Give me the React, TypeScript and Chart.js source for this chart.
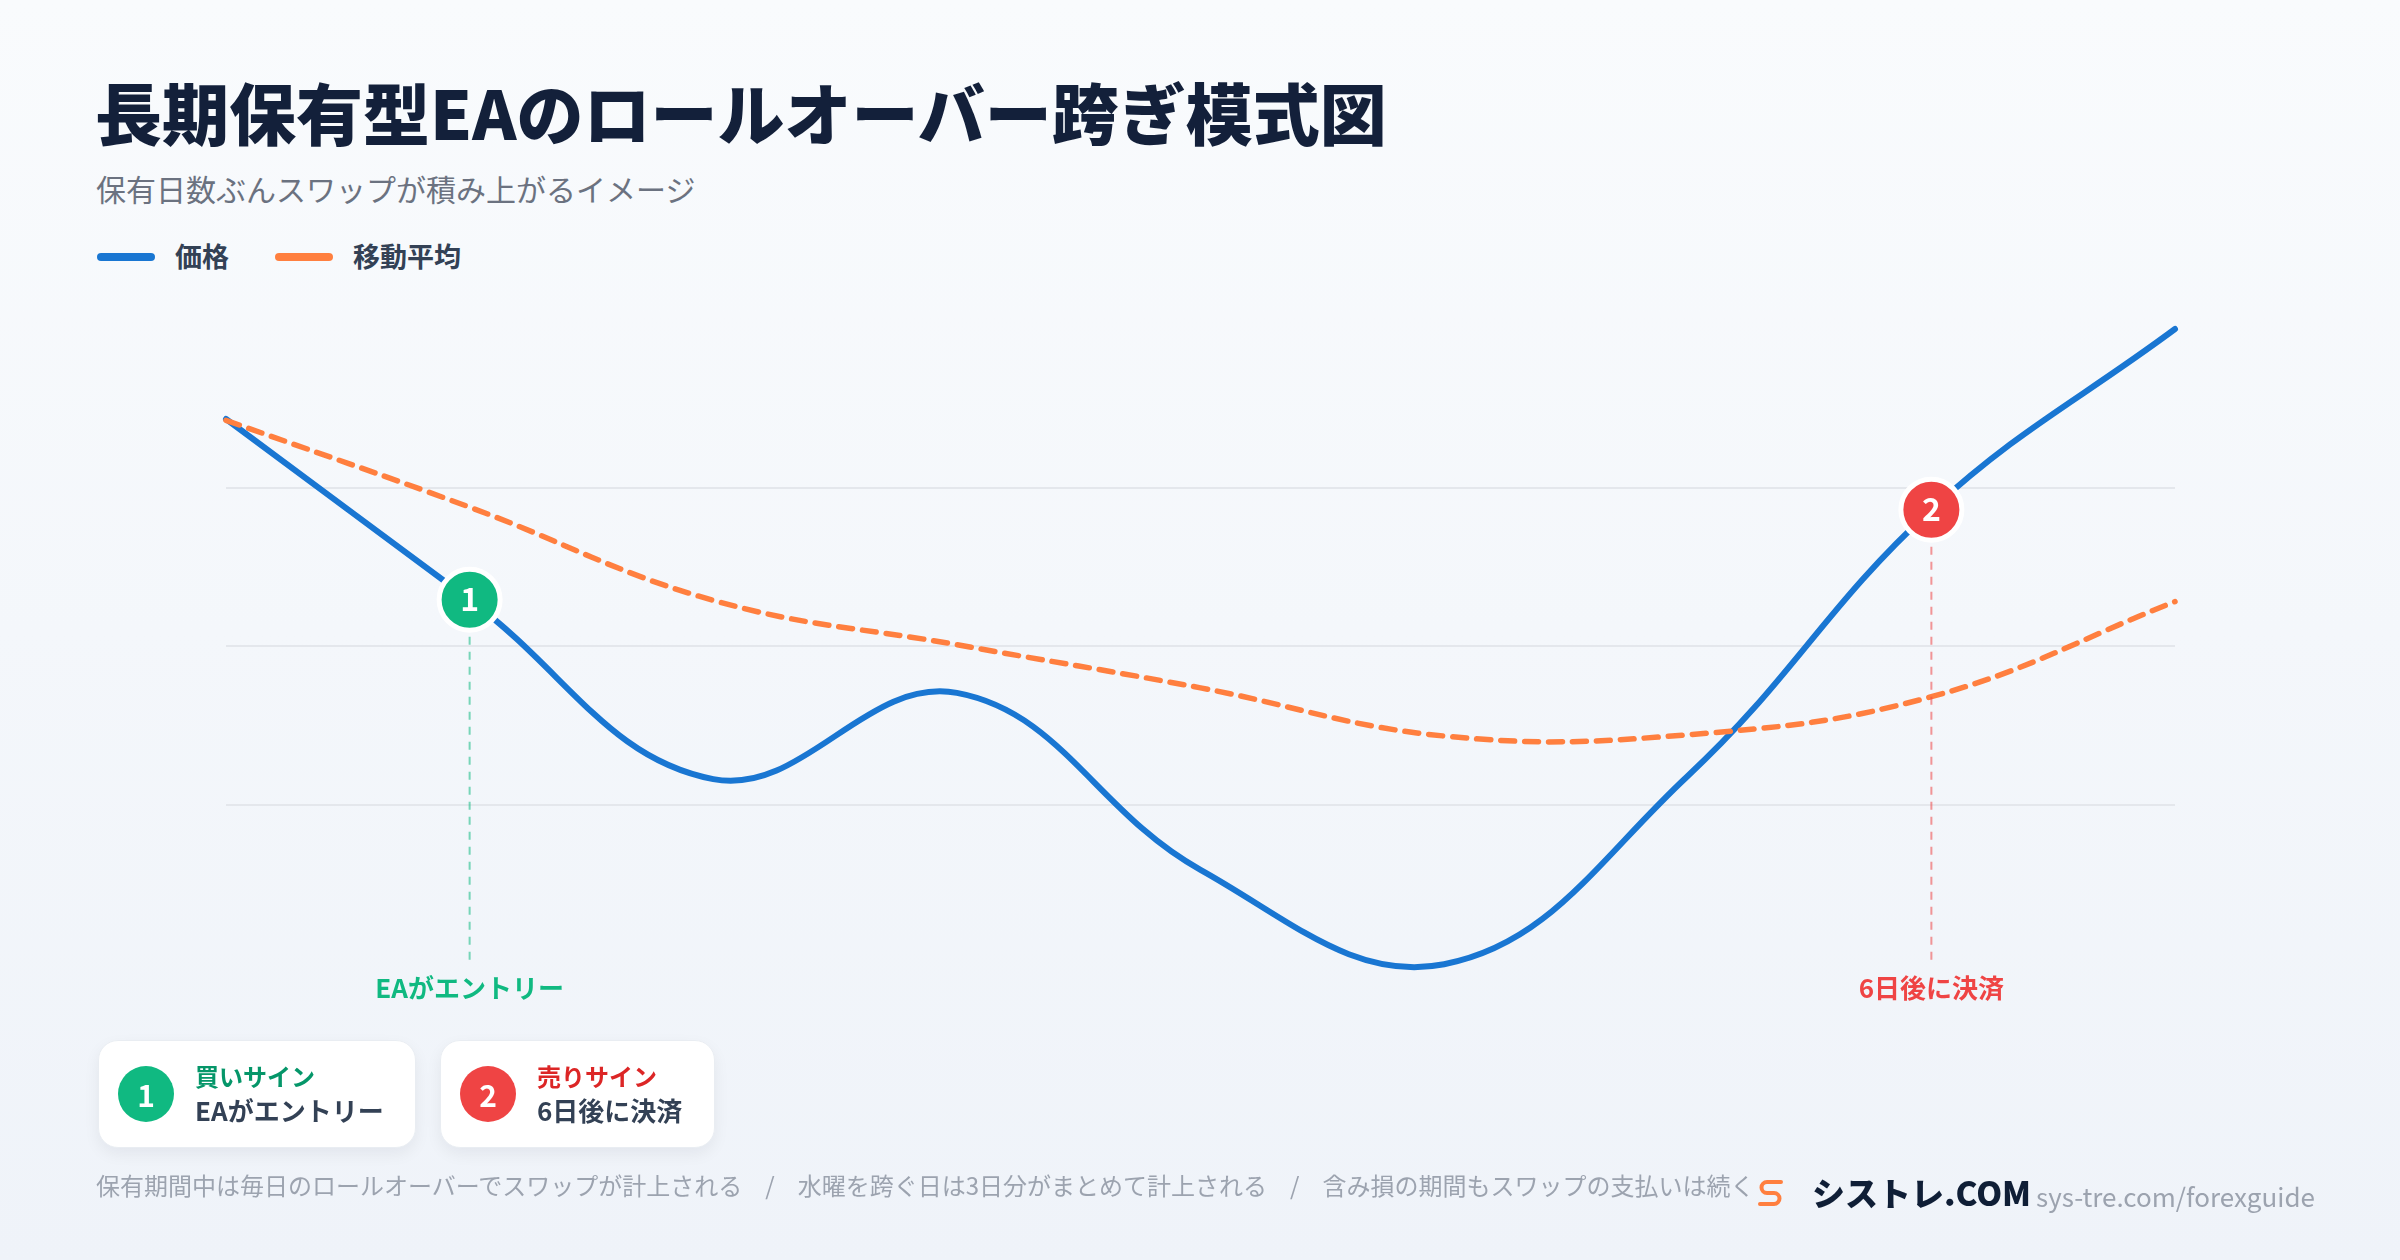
import React, { useEffect, useRef } from 'react';
import { Chart, registerables } from 'chart.js';

Chart.register(...registerables);

// ---- data ----
const days = ['0', '1', '2', '3', '4', '5', '6', '7', '8'];
const priceValues = [85.8, 57.3, 29.0, 42.6, 14.7, -0.2, 29.5, 71.5, 100];
const maValues = [85.6, 71.9, 57.2, 50.2, 43.4, 35.8, 36.0, 42.0, 57.0];
const yMin = 0;
const yMax = 100;
const yStep = 25;
const seriesNames = ['価格', '移動平均'];
const signalIndices = [1, 7];
const signalNumbers = ['1', '2'];
const signalLabels = ['EAがエントリー', '6日後に決済'];
const cardTitles = ['買いサイン', '売りサイン'];
const cardTexts = ['EAがエントリー', '6日後に決済'];
const footerNotes = [
  '保有期間中は毎日のロールオーバーでスワップが計上される',
  '水曜を跨ぐ日は3日分がまとめて計上される',
  '含み損の期間もスワップの支払いは続く',
];
const titleText = '長期保有型EAのロールオーバー跨ぎ模式図';
const subtitleText = '保有日数ぶんスワップが積み上がるイメージ';
const brandName = 'シストレ.COM';
const brandUrl = 'sys-tre.com/forexguide';

// ---- styles ----
const FONT = '"Noto Sans CJK JP", "Noto Sans", sans-serif';
const BLUE = '#1976D2';
const ORANGE = '#FF7F3F';
const GREEN = '#10B981';
const RED = '#EF4444';
const signalColors = [GREEN, RED];
const signalLineColors = ['rgba(16,185,129,0.55)', 'rgba(239,68,68,0.55)'];
const cardTitleColors = ['#059669', '#DC2626'];

const signalPlugin = {
  id: 'signalPlugin',
  afterDatasetsDraw(chart: any) {
    const ctx = chart.ctx;
    const xs = chart.scales.x;
    const ys = chart.scales.y;
    const area = chart.chartArea;
    signalIndices.forEach((idx, k) => {
      const x = xs.getPixelForValue(idx);
      const y = ys.getPixelForValue(priceValues[idx]);
      ctx.save();
      ctx.strokeStyle = signalLineColors[k];
      ctx.lineWidth = 2;
      ctx.setLineDash([8, 7]);
      ctx.beginPath();
      ctx.moveTo(x, y + 37);
      ctx.lineTo(x, area.bottom);
      ctx.stroke();
      ctx.setLineDash([]);
      ctx.fillStyle = '#ffffff';
      ctx.font = `700 32px ${FONT}`;
      ctx.textAlign = 'center';
      ctx.textBaseline = 'alphabetic';
      ctx.fillText(signalNumbers[k], x, y + 11.5);
      ctx.fillStyle = signalColors[k];
      ctx.font = `700 26px ${FONT}`;
      ctx.fillText(signalLabels[k], x, area.bottom + 25 + 0.38 * 26);
      ctx.restore();
    });
  },
};

function ChartCanvas() {
  const ref = useRef<HTMLCanvasElement | null>(null);
  useEffect(() => {
    if (!ref.current) return;
    const radii = days.map((_, i) => (signalIndices.includes(i) ? 30.5 : 0));
    const fills = days.map((_, i) => {
      const k = signalIndices.indexOf(i);
      return k >= 0 ? signalColors[k] : BLUE;
    });
    const chart = new Chart(ref.current, {
      type: 'line',
      data: {
        labels: days,
        datasets: [
          {
            label: seriesNames[1],
            data: maValues,
            borderColor: ORANGE,
            borderWidth: 5.5,
            borderDash: [14, 10],
            borderCapStyle: 'round',
            tension: 0.4,
            pointRadius: 0,
            pointHoverRadius: 0,
            fill: false,
            clip: false as any,
          },
          {
            label: seriesNames[0],
            data: priceValues,
            borderColor: BLUE,
            borderWidth: 6,
            borderCapStyle: 'round',
            borderJoinStyle: 'round',
            tension: 0.4,
            pointRadius: radii,
            pointHoverRadius: radii,
            pointBackgroundColor: fills,
            pointBorderColor: '#ffffff',
            pointBorderWidth: 5,
            pointHoverBorderWidth: 5,
            fill: false,
            clip: false as any,
          },
        ],
      },
      options: {
        responsive: false,
        animation: false,
        devicePixelRatio: 1,
        events: [],
        layout: { padding: { left: 226, right: 225, top: 329, bottom: 297 } },
        plugins: {
          legend: { display: false },
          tooltip: { enabled: false },
          title: { display: false },
        },
        scales: {
          x: { display: false, offset: false },
          y: {
            min: yMin,
            max: yMax,
            ticks: { display: false, stepSize: yStep },
            border: { display: false },
            grid: {
              drawTicks: false,
              lineWidth: 2,
              color: (c: any) =>
                c.tick && (c.tick.value === yMin || c.tick.value === yMax)
                  ? 'rgba(0,0,0,0)'
                  : '#E4E7EC',
            },
          },
        },
      },
      plugins: [signalPlugin],
    } as any);
    return () => chart.destroy();
  }, []);
  return (
    <canvas
      ref={ref}
      width={2400}
      height={1260}
      style={{ position: 'absolute', left: 0, top: 0, width: 2400, height: 1260 }}
    />
  );
}

export default function App() {
  useEffect(() => {
    document.body.style.margin = '0';
  }, []);
  const abs = (o: any) => ({ position: 'absolute' as const, lineHeight: 1, whiteSpace: 'nowrap' as const, fontFamily: FONT, ...o });
  return (
    <div
      style={{
        position: 'fixed',
        left: 0,
        top: 0,
        width: 2400,
        height: 1260,
        overflow: 'hidden',
        background: 'linear-gradient(180deg, #F9FBFD 0%, #EFF3F9 100%)',
        fontFamily: FONT,
      }}
    >
      <div style={abs({ left: 95, top: 77, fontSize: 67, fontWeight: 900, color: '#13203A' })}>{titleText}</div>
      <div style={abs({ left: 96, top: 173, fontSize: 30, fontWeight: 400, color: '#6B7280' })}>{subtitleText}</div>

      {/* legend */}
      <div style={abs({ left: 97, top: 253, width: 58, height: 8, borderRadius: 4, background: BLUE })} />
      <div style={abs({ left: 175, top: 242, fontSize: 27, fontWeight: 700, color: '#334155' })}>{seriesNames[0]}</div>
      <div style={abs({ left: 275, top: 253, width: 58, height: 8, borderRadius: 4, background: ORANGE })} />
      <div style={abs({ left: 353, top: 242, fontSize: 27, fontWeight: 700, color: '#334155' })}>{seriesNames[1]}</div>

      <ChartCanvas />

      {/* signal cards */}
      {cardTitles.map((t, k) => (
        <div
          key={k}
          style={{
            position: 'absolute',
            left: k === 0 ? 98 : 440,
            top: 1040,
            width: k === 0 ? 318 : 275,
            height: 108,
            boxSizing: 'border-box',
            background: '#FFFFFF',
            borderRadius: 20,
            border: '1px solid #E9EDF2',
            boxShadow: '0 6px 16px rgba(15,23,42,0.06)',
            display: 'flex',
            alignItems: 'center',
            paddingLeft: 19,
          }}
        >
          <div
            style={{
              width: 56,
              height: 56,
              borderRadius: 28,
              background: signalColors[k],
              color: '#fff',
              fontSize: 30,
              fontWeight: 700,
              display: 'flex',
              alignItems: 'center',
              justifyContent: 'center',
              lineHeight: 1,
              flexShrink: 0,
            }}
          >
            {signalNumbers[k]}
          </div>
          <div style={{ marginLeft: 21, display: 'flex', flexDirection: 'column' }}>
            <div style={{ fontSize: 24, lineHeight: '32px', fontWeight: 700, color: cardTitleColors[k] }}>{t}</div>
            <div style={{ fontSize: 26, lineHeight: '36px', fontWeight: 700, color: '#334155' }}>{cardTexts[k]}</div>
          </div>
        </div>
      ))}

      {/* footer notes */}
      <div style={abs({ left: 96, top: 1173, fontSize: 24, color: '#9CA3AF' })}>
        {footerNotes.map((n, i) => (
          <span key={i}>
            {i > 0 && <span style={{ margin: '0 23px' }}>/</span>}
            {n}
          </span>
        ))}
      </div>

      {/* brand */}
      <svg style={{ position: 'absolute', left: 1757, top: 1178 }} width={28} height={31} viewBox="0 0 28 31">
        <path
          d="M24 4 H10 A5.5 5.5 0 0 0 10 15 H17 A5.5 5.5 0 0 1 17 26 H3"
          fill="none"
          stroke="#FF7F3F"
          strokeWidth={4}
          strokeLinecap="round"
          strokeLinejoin="round"
        />
      </svg>
      <div style={abs({ left: 1812, top: 1176, fontSize: 33, fontWeight: 800, color: '#0F1E36' })}>{brandName}</div>
      <div style={abs({ left: 2036, top: 1183, fontSize: 26, fontWeight: 400, color: '#9CA3AF' })}>{brandUrl}</div>
    </div>
  );
}
